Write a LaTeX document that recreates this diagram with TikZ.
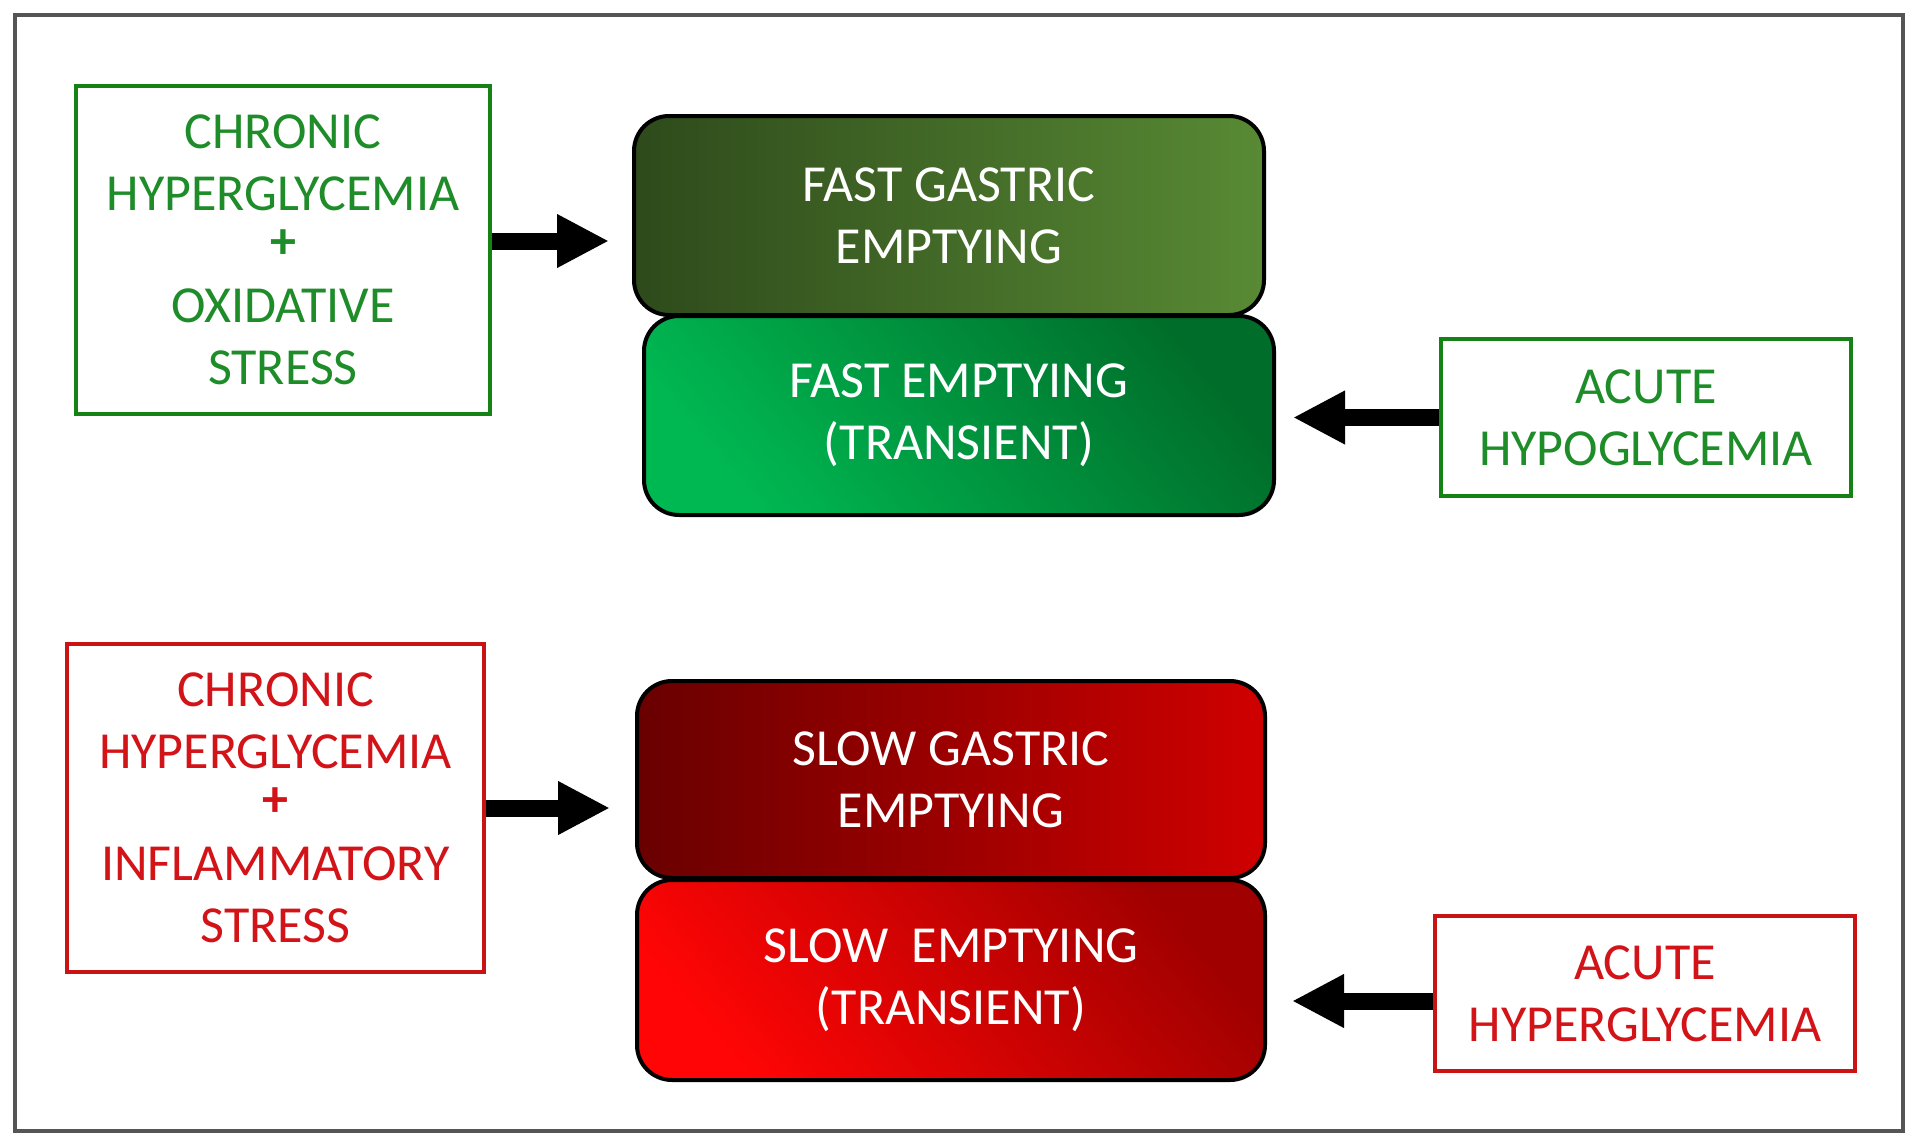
\documentclass[tikz,border=0pt]{standalone}
\usepackage{fontspec}
\setmainfont{Carlito}
\usetikzlibrary{arrows.meta}
\definecolor{gtext}{RGB}{30,140,40}
\definecolor{gline}{RGB}{20,130,20}
\definecolor{rtext}{RGB}{210,20,25}
\definecolor{rline}{RGB}{200,20,20}
\definecolor{fgA}{RGB}{46,74,27}
\definecolor{fgB}{RGB}{88,138,52}
\definecolor{feA}{RGB}{0,184,82}
\definecolor{feB}{RGB}{0,110,42}
\definecolor{sgA}{RGB}{105,0,0}
\definecolor{sgB}{RGB}{208,0,0}
\definecolor{seA}{RGB}{255,5,5}
\definecolor{seB}{RGB}{160,0,0}
\definecolor{framecol}{RGB}{85,85,85}
\begin{document}
\begin{tikzpicture}[x=1pt,y=-1pt,
  txt/.style={font=\fontsize{52}{62}\selectfont, align=center, inner sep=0pt},
  lbox/.style={draw=#1, line width=4pt, fill=white, txt},
  mbox/.style={draw=black, line width=4pt, rounded corners=35pt, txt, text=white,
    minimum width=630pt, minimum height=199pt},
  arr/.style={line width=17pt, -{Triangle[length=52pt,width=50pt]}}]
\useasboundingbox (0,0) rectangle (1920,1148);
\fill[white] (0,0) rectangle (1920,1148);
\draw[framecol, line width=4pt] (15,15) rectangle (1903,1131);

% green group
\node[lbox=gline, text=gtext, minimum width=414pt, minimum height=328pt] (gl) at (283,250)
  {CHRONIC\\HYPERGLYCEMIA\\[-14pt]\textbf{+}\\[2pt]OXIDATIVE\\STRESS};
\node[mbox, left color=fgA, right color=fgB] (fg) at (949,215.5)
  {FAST GASTRIC\\EMPTYING};
\node[mbox, top color=feB, bottom color=feA, shading angle=-50] (fe) at (959,415.5)
  {FAST EMPTYING\\(TRANSIENT)};
\node[lbox=gline, text=gtext, minimum width=410pt, minimum height=157pt] (ah) at (1646,417.5)
  {ACUTE\\HYPOGLYCEMIA};

% red group
\node[lbox=rline, text=rtext, minimum width=417pt, minimum height=328pt] (rl) at (275.5,808)
  {CHRONIC\\HYPERGLYCEMIA\\[-14pt]\textbf{+}\\[2pt]INFLAMMATORY\\STRESS};
\node[mbox, minimum width=628pt, minimum height=197pt, left color=sgA, right color=sgB] (sg) at (951,779.5)
  {SLOW GASTRIC\\EMPTYING};
\node[mbox, minimum width=628pt, minimum height=200pt, top color=seB, bottom color=seA, shading angle=-50] (se) at (951,980)
  {SLOW\ \ EMPTYING\\(TRANSIENT)};
\node[lbox=rline, text=rtext, minimum width=420pt, minimum height=155pt] (ahy) at (1645,993.5)
  {ACUTE\\HYPERGLYCEMIA};

% arrows
\draw[arr, shorten >=23pt] ([yshift=9pt]gl.east) -- ([yshift=9pt]gl.east -| fg.west);
\draw[arr, shorten >=17pt] (ah.west) -- (ah.west -| fe.east);
\draw[arr, shorten >=25pt] (rl.east) -- (rl.east -| sg.west);
\draw[arr, shorten >=25pt] ([yshift=-7.5pt]ahy.west) -- ([yshift=-7.5pt]ahy.west -| se.east);
\end{tikzpicture}
\end{document}
